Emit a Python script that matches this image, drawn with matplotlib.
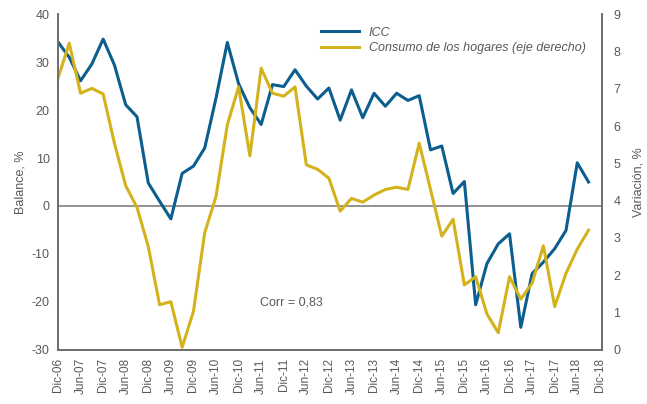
import matplotlib.pyplot as plt

plt.rcParams['font.family'] = ['Liberation Sans', 'DejaVu Sans']
plt.rcParams['axes.unicode_minus'] = False

# quarterly, Dic-06 .. Sep-18
icc = [34.2, 31.0, 26.1, 29.6, 34.8, 29.4, 21.1, 18.6, 4.8, 1.0,
       -2.7, 6.8, 8.3, 12.1, 22.5, 34.1, 25.5, 20.5, 17.0, 25.3,
       24.9, 28.4, 25.0, 22.3, 24.6, 17.9, 24.2, 18.4, 23.5, 20.8,
       23.5, 22.0, 23.0, 11.7, 12.5, 2.6, 5.1, -20.6, -12.0, -7.9,
       -5.8, -25.3, -14.1, -11.7, -8.9, -5.1, 9.0, 5.0]
consumo = [7.28, 8.22, 6.88, 7.01, 6.86, 5.54, 4.40, 3.82, 2.77, 1.21,
           1.29, 0.07, 1.03, 3.14, 4.11, 6.03, 7.05, 5.20, 7.55, 6.88,
           6.80, 7.05, 4.96, 4.84, 4.60, 3.72, 4.06, 3.96, 4.15, 4.30,
           4.36, 4.30, 5.54, 4.30, 3.05, 3.50, 1.74, 1.96, 0.96, 0.46,
           1.96, 1.36, 1.79, 2.79, 1.16, 2.05, 2.70, 3.21]
xlabels = []
for yr in range(6, 19):
    xlabels.append("Dic-%02d" % yr)
    if yr < 18:
        xlabels.append("Jun-%02d" % (yr + 1))

blue = "#0b5e8e"
yellow = "#d4b21c"
grey = "#595959"

fig = plt.figure(figsize=(6.47, 4.04), dpi=100)
ax = fig.add_axes([0.0896, 0.134, 0.841, 0.831])
ax2 = ax.twinx()

x = list(range(len(icc)))
l1, = ax.plot(x, icc, color=blue, lw=2.2, label="ICC")
l2, = ax2.plot(x, consumo, color=yellow, lw=2.2, label="Consumo de los hogares (eje derecho)")
ax.axhline(0, color="#808080", lw=1.2, zorder=0)

ax.set_xlim(0, 48.2)
ax.set_ylim(-30, 40)
ax2.set_ylim(0, 9)
ax.set_xticks(range(0, 49, 2))
ax.set_xticklabels(xlabels, rotation=90, fontsize=8.5, color=grey)
ax.tick_params(axis="both", length=0, pad=6, labelcolor=grey, labelsize=9)
ax2.tick_params(axis="y", length=0, pad=8, labelcolor=grey, labelsize=9)
ax.tick_params(axis="x", labelsize=8.5)

for a in (ax, ax2):
    a.spines["top"].set_visible(False)
    for s in ("left", "right", "bottom"):
        a.spines[s].set_color("#6b6b6b")
        a.spines[s].set_linewidth(1.2)

ax.set_ylabel("Balance, %", color=grey, fontsize=9, labelpad=4)
ax2.set_ylabel("Variación, %", color=grey, fontsize=9, labelpad=9)

ax.text(17.9, -20.8, "Corr = 0,83", color=grey, fontsize=9)

fig.legend(handles=[l1, l2], loc="upper left", bbox_to_anchor=(0.479, 0.962),
           frameon=False, handlelength=3.0, handletextpad=0.8, labelspacing=0.3,
           prop={"style": "italic", "size": 9}, labelcolor=grey)

plt.savefig("out.png", dpi=100)
